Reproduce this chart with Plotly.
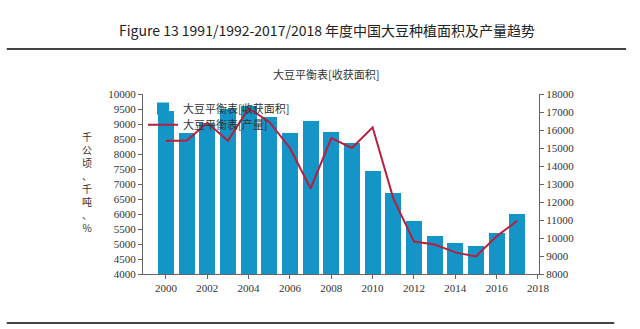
import plotly.graph_objects as go

# Marketing years and soybean balance sheet figures
years = list(range(2000, 2018))
harvest_area = [9430, 8690, 9040, 9500, 9590, 9240, 8710, 9110, 8750, 8380,
                7420, 6700, 5770, 5260, 5040, 4940, 5380, 5990]  # 千公顷
production = [15400, 15400, 16400, 15400, 17200, 16450, 15000, 12750, 15550, 15000,
              16150, 12200, 9800, 9640, 9200, 8980, 10100, 10960]  # 千吨

left_ticks = list(range(4000, 10001, 500))
right_ticks = list(range(8000, 18001, 1000))
x_ticks = list(range(2000, 2019, 2))

title_text = "Figure 13 1991/1992-2017/2018 年度中国大豆种植面积及产量趋势"
chart_title = "大豆平衡表[收获面积]"
y_title = "千公顷、千吨、%"

tick_font = dict(family="Liberation Serif, Noto Sans CJK SC", size=11, color="#333333")
cjk = "Noto Sans CJK SC"

fig = go.Figure()
fig.add_trace(go.Bar(
    x=years, y=harvest_area, name="大豆平衡表[收获面积]",
    marker=dict(color="#1594c8", line=dict(width=0)), width=0.78,
    legend="legend",
))
fig.add_trace(go.Scatter(
    x=years, y=production, name="大豆平衡表[产量]", yaxis="y2",
    mode="lines", line=dict(color="#b5203f", width=2),
    legend="legend2",
))

axis_common = dict(
    showline=True, linecolor="#666666", linewidth=1, ticks="outside",
    ticklen=4, tickcolor="#666666", showgrid=False, zeroline=False,
    tickfont=tick_font, tickformat="d",
)

legend_common = dict(
    xanchor="left", yanchor="top", bgcolor="rgba(0,0,0,0)", borderwidth=0,
    font=dict(family=cjk, size=11, color="#333333"), itemwidth=30,
)

fig.update_layout(
    width=640, height=329,
    margin=dict(l=143, r=101, t=94, b=55),
    paper_bgcolor="white", plot_bgcolor="white",
    showlegend=True,
    legend=dict(x=0.0, y=1.0, **legend_common),
    legend2=dict(x=0.0, y=0.91, **legend_common),
    xaxis=dict(range=[1998.89, 2018.05], tickvals=x_ticks, **axis_common),
    yaxis=dict(range=[4000, 10000], tickvals=left_ticks, **axis_common),
    yaxis2=dict(range=[8000, 18000], tickvals=right_ticks, overlaying="y",
                side="right", **axis_common),
    bargap=0,
    annotations=[
        dict(text=title_text, xref="paper", yref="paper", x=0.5, y=1.0,
             xanchor="center", yanchor="middle", showarrow=False,
             font=dict(family=cjk, size=14, color="#222222"),
             yshift=64, xshift=-14),
        dict(text=chart_title, xref="paper", yref="paper", x=0.5, y=1.0,
             xanchor="center", yanchor="middle", showarrow=False,
             font=dict(family=cjk, size=11, color="#333333"),
             yshift=20, xshift=-15),
        dict(text="<br>".join(list(y_title)), xref="paper", yref="paper",
             x=0, y=0.5, xanchor="center", yanchor="middle", showarrow=False,
             font=dict(family=cjk, size=10, color="#333333"),
             xshift=-56, yshift=2),
    ],
    shapes=[
        dict(type="line", xref="paper", yref="paper", x0=-0.344, x1=1.22,
             y0=1.25, y1=1.25, line=dict(color="#444444", width=2)),
        dict(type="line", xref="paper", yref="paper", x0=-0.344, x1=1.19,
             y0=-0.272, y1=-0.272, line=dict(color="#444444", width=2)),
    ],
)

fig.write_html("out.html")
